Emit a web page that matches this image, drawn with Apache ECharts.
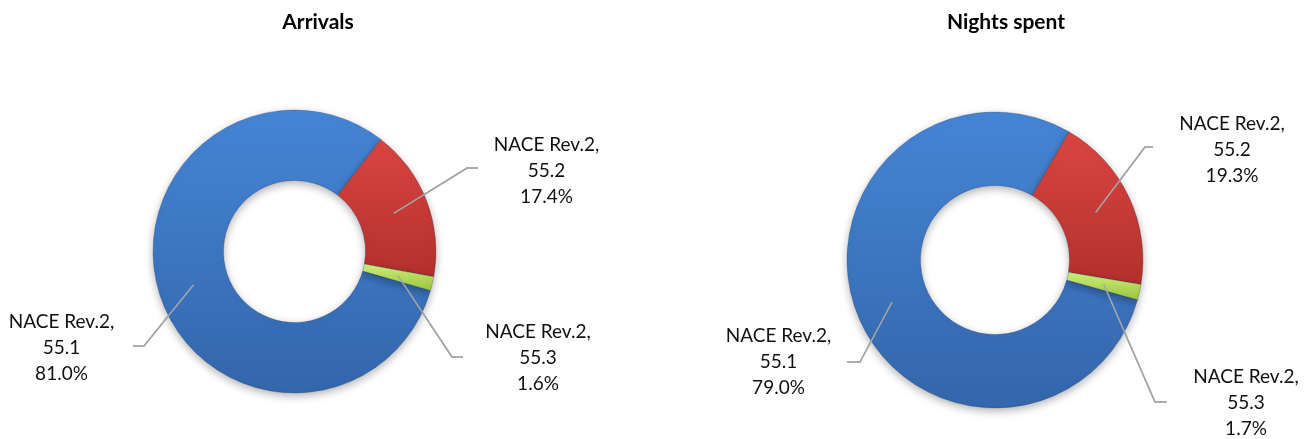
<!DOCTYPE html>
<html>
<head>
<meta charset="utf-8">
<script src="https://cdn.jsdelivr.net/npm/echarts@6/dist/echarts.min.js"></script>
<style>
  html, body { margin: 0; padding: 0; background: #fff; }
  #chart { width: 1312px; height: 439px; }
</style>
</head>
<body>
<div id="chart"></div>
<script>
// data
const categories = ['NACE Rev.2,\n55.1', 'NACE Rev.2,\n55.2', 'NACE Rev.2,\n55.3'];
const arrivals = [81.0, 17.4, 1.6];
const nightsSpent = [79.0, 19.3, 1.7];
const chartTitles = ['Arrivals', 'Nights spent'];

// colours per category (top -> bottom of the shaded slice)
const sliceColors = [
  ['#4585d5', '#3366ab'],
  ['#da4641', '#b3302c'],
  ['#cdf07a', '#9bc53d']
];

// layout
const centers = [[294.5, 251.5], [995, 260]];
const radii = [[71, 141.5], [74.5, 148]];
const startAngles = [-16, -15.6];
const titlePos = [[318, 22], [1006, 22]];
// label centre, elbow of leader line, x where the leader line ends
const labelPos = [
  [
    { c: [61.5, 348], elbow: [144, 346], end: 133 },
    { c: [546.5, 171], elbow: [467, 168], end: 478 },
    { c: [538, 358], elbow: [452, 357], end: 463 }
  ],
  [
    { c: [778.5, 362], elbow: [860, 362], end: 847 },
    { c: [1232, 150], elbow: [1145, 147], end: 1153 },
    { c: [1246, 403], elbow: [1155, 402], end: 1167 }
  ]
];
const leaderColor = '#a6a6a6';

const chart = echarts.init(document.getElementById('chart'));

// leader lines found by the label layout; drawn again on top of the ring
const leaders = {};

const makeSeries = (values, idx) => ({
  type: 'pie',
  center: centers[idx],
  radius: radii[idx],
  startAngle: startAngles[idx],
  clockwise: true,
  avoidLabelOverlap: false,
  animation: false,
  emphasis: { disabled: true },
  data: values.map((v, i) => ({
    name: categories[i],
    value: v,
    itemStyle: {
      color: new echarts.graphic.LinearGradient(0, 0, 0, 1, [
        { offset: 0, color: sliceColors[i][0] },
        { offset: 1, color: sliceColors[i][1] }
      ]),
      borderColor: 'rgba(30,50,90,0.35)',
      borderWidth: 0.8,
      shadowBlur: 8,
      shadowOffsetY: 3,
      shadowColor: 'rgba(0,0,0,0.3)'
    }
  })),
  label: {
    show: true,
    position: 'outside',
    formatter: (p) => p.name + '\n' + p.value.toFixed(1) + '%',
    fontFamily: 'Lato',
    fontSize: 19,
    lineHeight: 26,
    color: '#111',
    align: 'center'
  },
  labelLine: {
    show: true,
    smooth: false,
    lineStyle: { color: leaderColor, width: 1.5 }
  },
  labelLayout: (params) => {
    const pos = labelPos[idx][params.dataIndex];
    const [cx, cy] = centers[idx];
    const midR = (radii[idx][0] + radii[idx][1]) / 2;
    const p0 = params.labelLinePoints ? params.labelLinePoints[0] : [cx + 1, cy];
    const dx = p0[0] - cx, dy = p0[1] - cy;
    const len = Math.sqrt(dx * dx + dy * dy) || 1;
    const start = [cx + dx / len * midR, cy + dy / len * midR];
    const pts = [start, pos.elbow, [pos.end, pos.elbow[1]]];
    leaders[idx + '-' + params.dataIndex] = pts;
    return {
      x: pos.c[0],
      y: pos.c[1],
      align: 'center',
      verticalAlign: 'middle',
      labelLinePoints: pts
    };
  }
});

const titleGraphics = chartTitles.map((t, i) => ({
  type: 'text',
  x: titlePos[i][0],
  y: titlePos[i][1],
  style: {
    text: t,
    fontFamily: 'Lato',
    fontWeight: 'bold',
    fontSize: 21,
    fill: '#000',
    textAlign: 'center',
    textVerticalAlign: 'middle'
  }
}));

chart.setOption({
  backgroundColor: '#fff',
  graphic: titleGraphics,
  series: [makeSeries(arrivals, 0), makeSeries(nightsSpent, 1)]
});

// the pie puts its guide lines under the sectors, so repeat them above
chart.setOption({
  graphic: titleGraphics.concat(Object.keys(leaders).map((k) => ({
    type: 'polyline',
    z: 100,
    silent: true,
    shape: { points: leaders[k] },
    style: { stroke: leaderColor, lineWidth: 1.5, fill: null }
  })))
});
</script>
</body>
</html>
